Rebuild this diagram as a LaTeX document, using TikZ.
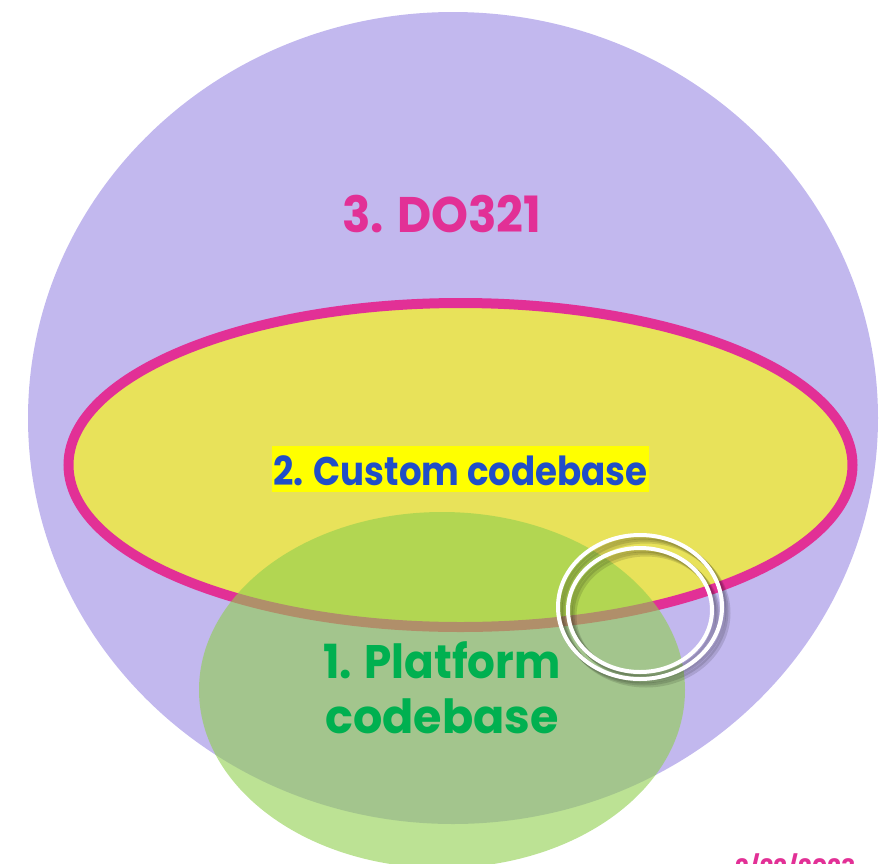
\documentclass[tikz,border=0pt]{standalone}
\usepackage{fontspec}
\setmainfont{Poppins}[BoldFont={* Bold}]
\definecolor{purplefill}{RGB}{194,184,238}
\definecolor{yellowfill}{RGB}{232,226,90}
\definecolor{magentaline}{RGB}{226,48,150}
\definecolor{greenfill}{RGB}{143,207,77}
\definecolor{bluetext}{RGB}{32,78,200}
\definecolor{greentext}{RGB}{0,176,80}
\definecolor{hiyellow}{RGB}{255,255,0}
\tikzset{
  lbl/.style={font=\bfseries, inner sep=0pt, anchor=base},
  ring/.style={draw=white, line width=4pt},
  ringshadow/.style={draw=black, line width=5pt, opacity=0.12},
}
\begin{document}
\begin{tikzpicture}[x=1pt,y=-1pt]
\useasboundingbox (0,0) rectangle (895,863);
% outer purple
\path[fill=purplefill] (453,418) ellipse [x radius=425, y radius=406];
% yellow ellipse
\path[fill=yellowfill, draw=magentaline, line width=10pt] (460.5,465) ellipse [x radius=392, y radius=162];
% green ellipse
\path[fill=greenfill, fill opacity=0.6] (442,690) ellipse [x radius=243, y radius=178];
% texts
\node[lbl, text=magentaline, font=\bfseries\fontsize{50}{60}\selectfont] (t3) at (442,232) {\scalebox{0.94}[1]{3. DO321}};
\node[lbl, text=bluetext, fill=hiyellow, inner xsep=1pt, text height=39pt, text depth=7pt, font=\bfseries\fontsize{40}{48}\selectfont] (t2) at (460.5,485) {\scalebox{0.89}[1]{2. Custom codebase}};
\node[lbl, text=greentext, font=\bfseries\fontsize{47}{56}\selectfont] (t1a) at (442,678) {\scalebox{0.93}[1]{1. Platform}};
\node[lbl, text=greentext, font=\bfseries\fontsize{47}{56}\selectfont] (t1b) at (442,733) {\scalebox{0.98}[1]{codebase}};
\node[lbl, text=magentaline, font=\bfseries\fontsize{24}{28}\selectfont, anchor=north west] (date) at (735,853) {2/22/2023};
% rings with shadow
\foreach \d in {2,4,6}{
  \path[ringshadow] (640+\d,607+\d) ellipse [x radius=82, y radius=72];
  \path[ringshadow] (640+\d,610+\d) ellipse [x radius=72, y radius=62];
}
\path[ring] (640,607) ellipse [x radius=82, y radius=72];
\path[ring] (640,610) ellipse [x radius=72, y radius=62];
\end{tikzpicture}
\end{document}
